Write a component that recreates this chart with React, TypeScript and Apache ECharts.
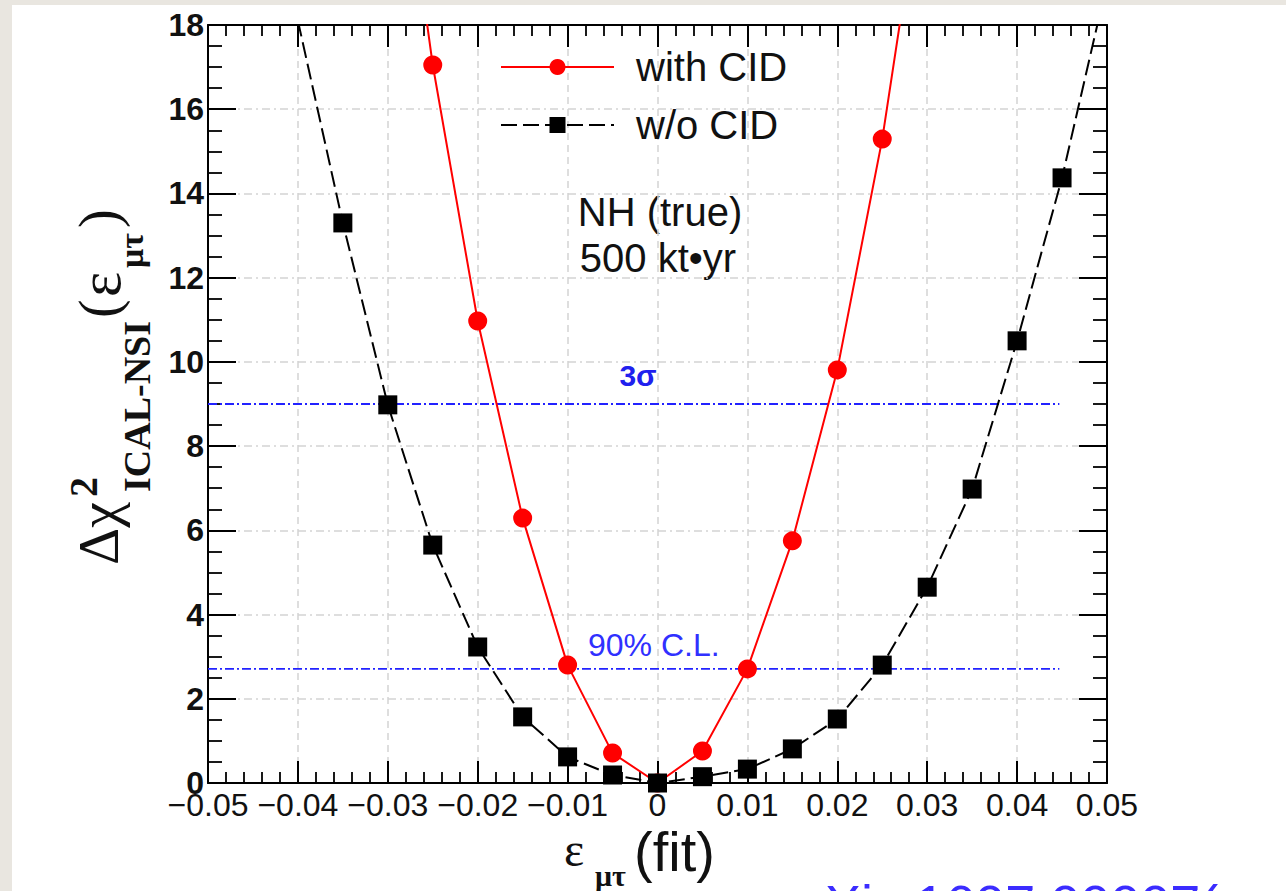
import React, { useEffect, useRef } from "react";
import * as echarts from "echarts";

// ---- data ----
const X_WITH = [-0.03, -0.025, -0.02, -0.015, -0.01, -0.005, 0, 0.005, 0.01, 0.015, 0.02, 0.025, 0.03];
const Y_WITH = [24.8, 17.05, 10.97, 6.29, 2.8, 0.71, 0, 0.76, 2.71, 5.75, 9.81, 15.29, 22.3];
const X_WO = [-0.04, -0.035, -0.03, -0.025, -0.02, -0.015, -0.01, -0.005, 0, 0.005, 0.01, 0.015, 0.02, 0.025, 0.03, 0.035, 0.04, 0.045, 0.05];
const Y_WO = [18.1, 13.3, 8.98, 5.65, 3.23, 1.57, 0.62, 0.19, 0, 0.15, 0.33, 0.81, 1.52, 2.8, 4.65, 6.98, 10.5, 14.37, 19.0];
const SIGMA3_X = [-0.05, 0.0447];
const SIGMA3_Y = [9, 9];
const CL90_X = [-0.05, 0.0447];
const CL90_Y = [2.71, 2.71];
const X_MIN = -0.05, X_MAX = 0.05, X_STEP = 0.01;
const Y_MIN = 0, Y_MAX = 18, Y_STEP = 2;
const SERIES_NAMES = ["with CID", "w/o CID"];

const OX = 12, OY = 5;
const px = (x: number) => x - OX;
const py = (y: number) => y - OY;

const SANS = "'Liberation Sans', Arial, Helvetica, sans-serif";
const SERIF = "'Liberation Serif', 'Times New Roman', serif";

function toData(xs: number[], ys: number[], hideEnds: boolean) {
  return xs.map((x, i) => {
    const item: any = { value: [x, ys[i]] };
    if (hideEnds && (i === 0 || i === xs.length - 1)) item.symbol = "none";
    return item;
  });
}

function xFmt(v: number) {
  if (Math.abs(v) < 1e-9) return "0";
  return (v < 0 ? "\u2212" : "") + Math.abs(v).toFixed(2);
}

export default function App() {
  const ref = useRef<HTMLDivElement>(null);
  useEffect(() => {
    if (!ref.current) return;
    const chart = echarts.init(ref.current, undefined, { renderer: "svg" });

    const axisLine = { onZero: false, lineStyle: { color: "#000", width: 2 } };
    const xTick = { inside: true, length: 22, lineStyle: { color: "#000", width: 2 } };
    const xMinor = { show: true, splitNumber: 5, length: 11, lineStyle: { color: "#000", width: 1.8 } };
    const yTick = { inside: true, length: 28, lineStyle: { color: "#000", width: 2 } };
    const yMinor = { show: true, splitNumber: 4, length: 14, lineStyle: { color: "#000", width: 1.8 } };

    const blue = "#2222ff";
    const dashDot = [9, 3, 2, 3];

    const t = (text: string, x: number, y: number, font: string, fill = "#111", align = "left") => ({
      type: "text",
      x,
      y,
      style: { text, font, fill, textAlign: align, textVerticalAlign: "middle", verticalAlign: "middle" },
    });

    const option: any = {
      animation: false,
      backgroundColor: "#ffffff",
      grid: { left: px(208), top: py(25), width: 899, height: 758, containLabel: false },
      legend: {
        data: SERIES_NAMES,
        orient: "vertical",
        left: px(500),
        top: py(47),
        itemWidth: 113,
        itemHeight: 20,
        itemGap: 18,
        padding: 0,
        textStyle: { fontSize: 40, fontFamily: SANS, color: "#111", padding: [0, 0, 0, 17] },
      },
      xAxis: [
        {
          type: "value", min: X_MIN, max: X_MAX, interval: X_STEP, position: "bottom",
          axisLine, axisTick: xTick, minorTick: xMinor,
          axisLabel: { formatter: xFmt, fontSize: 32, fontFamily: SANS, color: "#111", margin: 6 },
          splitLine: { show: true, lineStyle: { color: "#d4d4d4", type: [7, 5], width: 1.5 } },
        },
        {
          type: "value", min: X_MIN, max: X_MAX, interval: X_STEP, position: "top",
          axisLine, axisTick: xTick, minorTick: xMinor,
          axisLabel: { show: false }, splitLine: { show: false },
        },
      ],
      yAxis: [
        {
          type: "value", min: Y_MIN, max: Y_MAX, interval: Y_STEP, position: "left",
          axisLine, axisTick: yTick, minorTick: yMinor,
          axisLabel: { fontSize: 32, fontWeight: "bold", fontFamily: SANS, color: "#111", margin: 4 },
          splitLine: { show: true, lineStyle: { color: "#d4d4d4", type: [8, 4, 2, 4], width: 1.5 } },
        },
        {
          type: "value", min: Y_MIN, max: Y_MAX, interval: Y_STEP, position: "right",
          axisLine, axisTick: yTick, minorTick: yMinor,
          axisLabel: { show: false }, splitLine: { show: false },
        },
      ],
      series: [
        {
          name: SERIES_NAMES[0], type: "line", xAxisIndex: 0, yAxisIndex: 0,
          data: toData(X_WITH, Y_WITH, true), clip: true,
          color: "#ff0000", symbol: "circle", symbolSize: 19,
          lineStyle: { color: "#ff0000", width: 2 }, itemStyle: { color: "#ff0000" }, z: 3,
        },
        {
          name: SERIES_NAMES[1], type: "line", xAxisIndex: 0, yAxisIndex: 0,
          data: toData(X_WO, Y_WO, true), clip: true,
          color: "#000", symbol: "rect", symbolSize: 19,
          lineStyle: { color: "#000", width: 2, type: [16, 6] }, itemStyle: { color: "#000" }, z: 4,
        },
        {
          name: "3sigma", type: "line", xAxisIndex: 0, yAxisIndex: 0, silent: true,
          data: SIGMA3_X.map((x, i) => [x, SIGMA3_Y[i]]), symbol: "none",
          lineStyle: { color: blue, width: 1.8, type: dashDot }, z: 2,
        },
        {
          name: "90CL", type: "line", xAxisIndex: 0, yAxisIndex: 0, silent: true,
          data: CL90_X.map((x, i) => [x, CL90_Y[i]]), symbol: "none",
          lineStyle: { color: blue, width: 1.8, type: dashDot }, z: 2,
        },
      ],
      graphic: [
        t("NH (true)", px(660), py(212), `40px ${SANS}`, "#111", "center"),
        t("500 kt\u2022yr", px(658), py(258), `40px ${SANS}`, "#111", "center"),
        t("3\u03c3", px(638), py(375), `bold 30px ${SANS}`, "#2020ee", "center"),
        t("90% C.L.", px(588), py(645), `32px ${SANS}`, "#3030ff", "left"),
        // x-axis title
        t("\u03b5", px(564), py(866 - 0.34 * 48), `48px ${SERIF}`),
        t("\u03bc\u03c4", px(595), py(886 - 0.34 * 30), `bold 30px ${SERIF}`),
        t("(fit)", px(634), py(871 - 0.34 * 56), `56px ${SANS}`),
        // partially visible caption at the bottom
        t("arXiv:1607.00007(", px(777), py(904), `54px ${SANS}`, "#3b2cff", "left"),
        // y-axis title (rotated)
        {
          type: "group",
          x: px(118),
          y: py(590),
          rotation: Math.PI / 2,
          children: [
            t("\u0394\u03c7", 25, -0.34 * 58, `58px ${SERIF}`),
            t("2", 93, -21 - 0.34 * 40, `bold 40px ${SERIF}`),
            t("ICAL-NSI", 98, 32 - 0.34 * 38, `bold 38px ${SERIF}`),
            t("(", 272, -0.34 * 56, `56px ${SERIF}`),
            t("\u03b5", 293, 2 - 0.34 * 60, `60px ${SERIF}`),
            t("\u03bc\u03c4", 322, 25 - 0.34 * 34, `bold 34px ${SERIF}`),
            t(")", 362, -0.34 * 56, `56px ${SERIF}`),
          ],
        },
      ],
    };

    chart.setOption(option);
    return () => chart.dispose();
  }, []);

  return (
    <div style={{ position: "absolute", left: 0, top: 0, width: 1286, height: 891, background: "#e9e6e0", overflow: "hidden" }}>
      <div
        ref={ref}
        style={{ position: "absolute", left: OX, top: OY, width: 1286 - OX, height: 891 - OY, background: "#fff" }}
      />
    </div>
  );
}
